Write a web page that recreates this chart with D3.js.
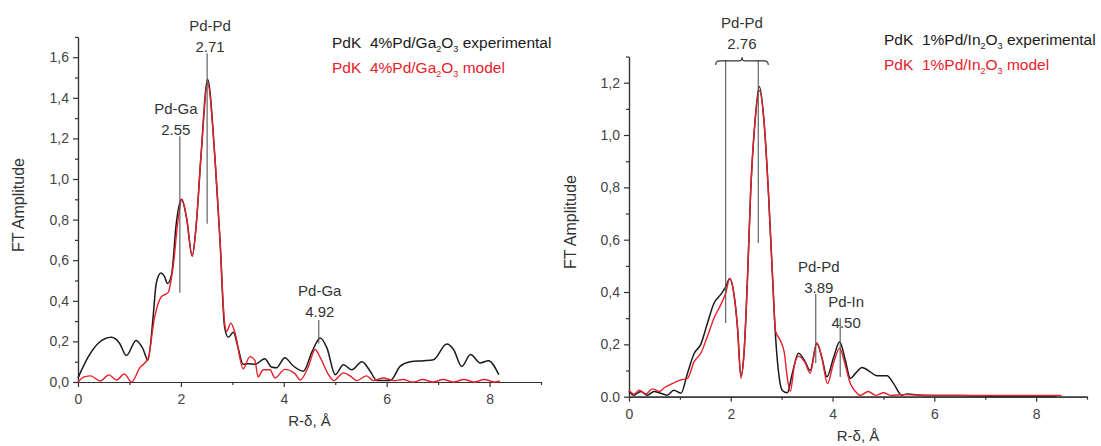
<!DOCTYPE html>
<html>
<head>
<meta charset="utf-8">
<script src="https://cdn.jsdelivr.net/npm/d3@7"></script>
<style>
  body { margin: 0; background: #fff; }
  svg { display: block; font-family: "Liberation Sans", Arial, sans-serif; }
  .axis path, .axis line { stroke: #333; stroke-width: 1.2; }
  .axis text { fill: #444; font-size: 14px; font-family: "Liberation Sans", Arial, sans-serif; }
</style>
</head>
<body>
<svg id="chart" width="1101" height="446"></svg>
<script>
// ---------- data: 4%Pd/Ga2O3 (left panel)
var gaExpR = [0, 0.19, 0.39, 0.65, 0.81, 0.94, 1.13, 1.26, 1.36, 1.46, 1.52, 1.61, 1.68, 1.74, 1.82, 1.91, 2.01, 2.11, 2.22, 2.30, 2.39, 2.52, 2.66, 2.76, 2.85, 2.92, 3.02, 3.11, 3.21, 3.31, 3.44, 3.63, 3.76, 3.86, 4.02, 4.18, 4.38, 4.55, 4.71, 4.84, 5.0, 5.16, 5.32, 5.52, 5.68, 5.81, 6.07, 6.26, 6.46, 6.72, 6.91, 7.17, 7.30, 7.46, 7.63, 7.82, 7.98, 8.18];
var gaExpA = [0.02, 0.12, 0.19, 0.22, 0.19, 0.13, 0.205, 0.165, 0.107, 0.32, 0.485, 0.537, 0.52, 0.485, 0.53, 0.78, 0.90, 0.81, 0.62, 0.78, 1.11, 1.49, 1.11, 0.70, 0.27, 0.22, 0.245, 0.17, 0.087, 0.09, 0.087, 0.115, 0.074, 0.07, 0.12, 0.08, 0.053, 0.15, 0.217, 0.167, 0.036, 0.085, 0.06, 0.10, 0.053, 0.007, 0.007, 0.077, 0.10, 0.105, 0.11, 0.187, 0.16, 0.077, 0.135, 0.094, 0.105, 0.036];
var gaModR = [0, 0.12, 0.25, 0.43, 0.6, 0.75, 0.9, 1.04, 1.2, 1.36, 1.49, 1.62, 1.75, 1.85, 1.95, 2.02, 2.11, 2.22, 2.30, 2.39, 2.52, 2.66, 2.76, 2.85, 2.89, 2.97, 3.05, 3.21, 3.34, 3.44, 3.5, 3.6, 3.73, 3.83, 4.02, 4.22, 4.32, 4.48, 4.61, 4.71, 4.87, 4.97, 5.16, 5.29, 5.42, 5.61, 5.74, 5.94, 6.13, 6.32, 6.51, 6.7, 6.9, 7.1, 7.3, 7.5, 7.7, 7.9, 8.1, 8.2];
var gaModA = [0.0, 0.025, 0.03, 0.005, 0.035, 0.01, 0.04, 0.0, 0.07, 0.115, 0.32, 0.42, 0.44, 0.57, 0.81, 0.90, 0.81, 0.62, 0.78, 1.11, 1.47, 1.11, 0.70, 0.29, 0.25, 0.29, 0.245, 0.065, 0.125, 0.105, 0.025, 0.06, 0.06, 0.02, 0.062, 0.04, 0.01, 0.077, 0.16, 0.12, 0.036, 0.007, 0.045, 0.03, 0.007, 0.03, 0.007, 0.02, 0.007, 0.012, 0.0, 0.012, 0.0, 0.012, 0.0, 0.012, 0.0, 0.012, 0.0, 0.005];

// ---------- data: 1%Pd/In2O3 (right panel)
var inExpR = [0, 0.1, 0.23, 0.36, 0.49, 0.62, 0.75, 0.88, 1.02, 1.15, 1.28, 1.41, 1.54, 1.67, 1.80, 1.90, 1.98, 2.06, 2.13, 2.2, 2.26, 2.33, 2.39, 2.48, 2.56, 2.65, 2.74, 2.82, 2.88, 2.95, 3.01, 3.11, 3.21, 3.33, 3.46, 3.56, 3.69, 3.79, 3.89, 4.02, 4.14, 4.25, 4.35, 4.45, 4.58, 4.74, 4.87, 5.07, 5.2, 5.36, 5.46, 5.8, 6.5, 7.2, 8.0, 8.4];
var inExpA = [0.02, 0.006, 0.02, 0.006, 0.02, 0.013, 0.006, 0.025, 0.013, 0.09, 0.165, 0.2, 0.28, 0.357, 0.39, 0.42, 0.452, 0.395, 0.27, 0.08, 0.166, 0.46, 0.78, 1.06, 1.185, 1.06, 0.78, 0.46, 0.23, 0.076, 0.025, 0.015, 0.09, 0.166, 0.134, 0.10, 0.204, 0.15, 0.076, 0.15, 0.21, 0.14, 0.07, 0.089, 0.112, 0.095, 0.08, 0.08, 0.05, 0.006, 0.01, 0.005, 0.005, 0.003, 0.003, 0.003];
var inModR = [0, 0.1, 0.2, 0.33, 0.46, 0.6, 0.7, 0.85, 1.02, 1.15, 1.28, 1.41, 1.54, 1.67, 1.8, 1.9, 1.98, 2.06, 2.13, 2.2, 2.26, 2.33, 2.39, 2.48, 2.56, 2.65, 2.74, 2.82, 2.88, 2.96, 3.05, 3.12, 3.17, 3.25, 3.33, 3.46, 3.56, 3.69, 3.79, 3.9, 4.02, 4.14, 4.25, 4.35, 4.45, 4.55, 4.7, 4.85, 5.0, 5.15, 5.4, 6.0, 7.0, 8.0, 8.5];
var inModA = [0.025, 0.01, 0.025, 0.01, 0.03, 0.02, 0.035, 0.05, 0.064, 0.07, 0.134, 0.166, 0.23, 0.3, 0.35, 0.395, 0.452, 0.395, 0.27, 0.07, 0.166, 0.46, 0.78, 1.06, 1.17, 1.06, 0.78, 0.46, 0.25, 0.22, 0.17, 0.06, 0.02, 0.12, 0.155, 0.13, 0.09, 0.205, 0.15, 0.05, 0.13, 0.185, 0.12, 0.05, 0.02, 0.005, 0.02, 0.005, 0.015, 0.005, 0.008, 0.005, 0.005, 0.005, 0.005];

// ---------- ticks
var xMajor = [0, 2, 4, 6, 8];
var xMinor = [1, 3, 5, 7, 9];
var gaYMajor = [0, 0.2, 0.4, 0.6, 0.8, 1.0, 1.2, 1.4, 1.6];
var gaYMinor = [0.1, 0.3, 0.5, 0.7, 0.9, 1.1, 1.3, 1.5, 1.7];
var inYMajor = [0, 0.2, 0.4, 0.6, 0.8, 1.0, 1.2];
var inYMinor = [0.1, 0.3, 0.5, 0.7, 0.9, 1.1, 1.3];

var svg = d3.select("#chart");
var comma = function(d) { return d3.format(".1f")(d).replace(".", ","); };

function zip(xs, ys) {
    return xs.map(function(x, i) { return [x, ys[i]]; });
}

// ----------
function drawPanel(p) {
    var x = d3.scaleLinear().domain([0, 9]).range([p.left, p.right]);
    var y = d3.scaleLinear().domain([0, p.ymax]).range([p.bottom, p.top]);

    // minor ticks first, then major axes on top
    svg.append("g").attr("class", "axis")
        .attr("transform", "translate(0," + p.bottom + ")")
        .call(d3.axisBottom(x).tickValues(xMinor).tickSize(3).tickSizeOuter(0).tickFormat(""));
    svg.append("g").attr("class", "axis")
        .attr("transform", "translate(" + p.left + ",0)")
        .call(d3.axisLeft(y).tickValues(p.yMinor).tickSize(3).tickSizeOuter(0).tickFormat(""));

    svg.append("g").attr("class", "axis")
        .attr("transform", "translate(0," + p.bottom + ")")
        .call(d3.axisBottom(x).tickValues(xMajor).tickSize(5).tickSizeOuter(0).tickPadding(7).tickFormat(d3.format("d")));
    svg.append("g").attr("class", "axis")
        .attr("transform", "translate(" + p.left + ",0)")
        .call(d3.axisLeft(y).tickValues(p.yMajor).tickSize(5).tickSizeOuter(0).tickPadding(4).tickFormat(p.yFormat));

    // axis titles
    svg.append("text")
        .attr("x", (p.left + p.right) / 2)
        .attr("y", p.bottom + 44)
        .attr("text-anchor", "middle")
        .style("font-size", "15px").style("fill", "#333")
        .text("R-\u03B4, \u00C5");
    svg.append("text")
        .attr("transform", "translate(" + p.ylabX + "," + p.ylabY + ") rotate(-90)")
        .attr("text-anchor", "middle")
        .style("font-size", "16px").style("fill", "#333")
        .text("FT Amplitude");

    var line = d3.line()
        .x(function(d) { return x(d[0]); })
        .y(function(d) { return y(d[1]); })
        .curve(d3.curveMonotoneX);

    svg.append("path").datum(zip(p.expR, p.expA))
        .attr("d", line).attr("fill", "none")
        .attr("stroke", "#1a1a1a").attr("stroke-width", 1.5);
    svg.append("path").datum(zip(p.modR, p.modA))
        .attr("d", line).attr("fill", "none")
        .attr("stroke", "#e8202a").attr("stroke-width", 1.4);

    // legend
    p.legend.forEach(function(row, i) {
        var t = svg.append("text")
            .attr("x", p.legX).attr("y", p.legY + i * 25)
            .style("font-size", "15.5px").style("fill", row.color);
        t.append("tspan").text("PdK\u00A0\u00A0" + p.sample[0]);
        t.append("tspan").attr("dy", 4).style("font-size", "9px").text("2");
        t.append("tspan").attr("dy", -4).text("O");
        t.append("tspan").attr("dy", 4).style("font-size", "9px").text("3");
        t.append("tspan").attr("dy", -4).text("\u00A0" + row.label);
    });

    // peak annotations
    p.notes.forEach(function(n) {
        n.lines.forEach(function(l) {
            svg.append("line")
                .attr("x1", x(l[0])).attr("x2", x(l[0]))
                .attr("y1", y(l[1])).attr("y2", y(l[2]))
                .attr("stroke", "#555").attr("stroke-width", 1.1);
        });
        var cx = n.labelX != null ? x(n.labelX) : x(n.lines[0][0]);
        var ty = y(n.lines[0][1]);
        svg.append("text").attr("x", cx + n.dx).attr("y", ty - n.gap - 21)
            .attr("text-anchor", "middle")
            .style("font-size", "15px").style("fill", "#333").text(n.name);
        svg.append("text").attr("x", cx + n.dx).attr("y", ty - n.gap)
            .attr("text-anchor", "middle")
            .style("font-size", "15px").style("fill", "#333").text(n.dist);
        if (n.brace) {
            var x0 = x(n.lines[0][0]) - 10, x1 = x(n.lines[1][0]) + 10, xm = (x0 + x1) / 2;
            var yb = ty + 1;
            svg.append("path")
                .attr("d", "M" + x0 + "," + (yb + 4) + " Q" + x0 + "," + yb + " " + (x0 + 4) + "," + yb +
                    " L" + (xm - 3) + "," + yb + " Q" + xm + "," + yb + " " + xm + "," + (yb - 4) +
                    " Q" + xm + "," + yb + " " + (xm + 3) + "," + yb +
                    " L" + (x1 - 4) + "," + yb + " Q" + x1 + "," + yb + " " + x1 + "," + (yb + 4))
                .attr("fill", "none").attr("stroke", "#333").attr("stroke-width", 1.1);
        }
    });
}

drawPanel({
    left: 78, right: 541, top: 36.9, bottom: 382, ymax: 1.7,
    yMajor: gaYMajor, yMinor: gaYMinor, yFormat: comma,
    ylabX: 24, ylabY: 205,
    expR: gaExpR, expA: gaExpA, modR: gaModR, modA: gaModA,
    sample: ["4%Pd/Ga"], legX: 332, legY: 48,
    legend: [{label: "experimental", color: "#1a1a1a"}, {label: "model", color: "#e8202a"}],
    notes: [
        {name: "Pd-Pd", dist: "2.71", lines: [[2.51, 1.62, 0.78]], dx: 3, gap: 1},
        {name: "Pd-Ga", dist: "2.55", lines: [[1.98, 1.21, 0.44]], dx: -4, gap: 1},
        {name: "Pd-Ga", dist: "4.92", lines: [[4.68, 0.305, 0.19]], dx: 1, gap: 3}
    ]
});

drawPanel({
    left: 629, right: 1087, top: 56.5, bottom: 396.7, ymax: 1.3,
    yMajor: inYMajor, yMinor: inYMinor,
    yFormat: function(d) { return d === 0 ? "0.0" : comma(d); },
    ylabX: 576, ylabY: 222,
    expR: inExpR, expA: inExpA, modR: inModR, modA: inModA,
    sample: ["1%Pd/In"], legX: 884, legY: 45,
    legend: [{label: "experimental", color: "#1a1a1a"}, {label: "model", color: "#e8202a"}],
    notes: [
        {name: "Pd-Pd", dist: "2.76", lines: [[1.9, 1.287, 0.282], [2.54, 1.287, 0.587]], labelX: 2.22, dx: 0, gap: 11, brace: true},
        {name: "Pd-Pd", dist: "3.89", lines: [[3.67, 0.392, 0.129]], dx: 3, gap: 1},
        {name: "Pd-In", dist: "4.50", lines: [[4.15, 0.30, 0.075]], dx: 6, gap: -10}
    ]
});
</script>
</body>
</html>
